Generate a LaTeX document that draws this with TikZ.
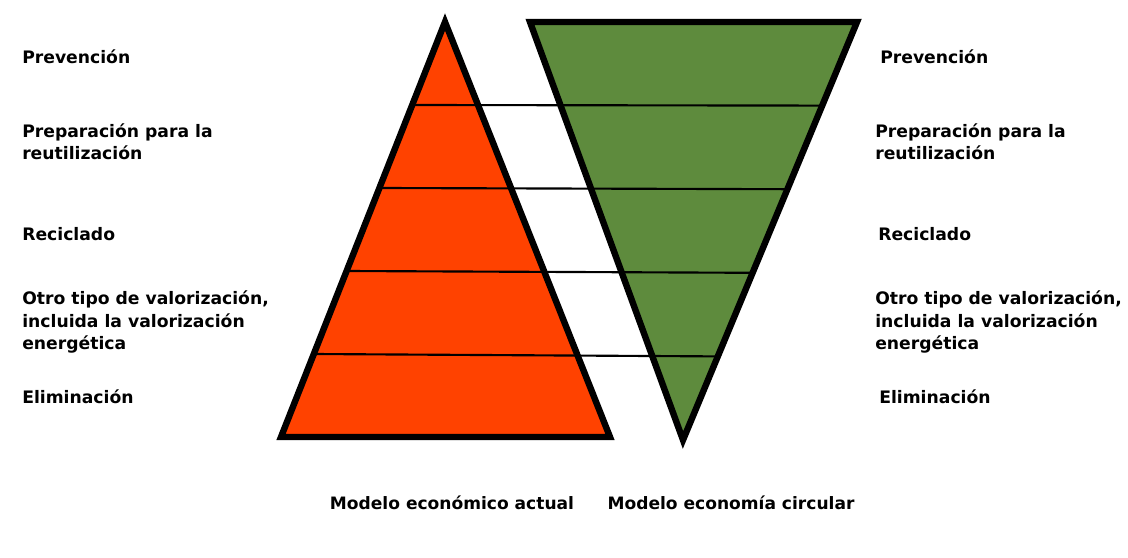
\documentclass[tikz,border=0pt]{standalone}
\usepackage{fontspec}
\setmainfont{DejaVu Sans}
\usetikzlibrary{calc}
\definecolor{redfill}{HTML}{FF4200}
\definecolor{greenfill}{HTML}{5E8B3D}
\tikzset{
  tri/.style={draw=black, line width=4.8pt, line join=miter},
  level/.style={draw=black, line width=1.6pt},
  lbl/.style={anchor=west, align=left, inner sep=0pt, font=\bfseries\fontsize{12.9}{16.8}\selectfont},
  captext/.style={anchor=center, inner sep=0pt, font=\bfseries\fontsize{12.8}{16.8}\selectfont}
}
\begin{document}
\begin{tikzpicture}[x=0.75pt,y=-0.75pt]
\useasboundingbox (0,0) rectangle (1128,557);
\coordinate (rA) at (445,22);
\coordinate (rL) at (281,437);
\coordinate (rR) at (610,437);
\coordinate (gL) at (530,22);
\coordinate (gR) at (857,22);
\coordinate (gB) at (683,440);
\fill[redfill] (rA) -- (rL) -- (rR) -- cycle;
\fill[greenfill] (gL) -- (gR) -- (gB) -- cycle;
\foreach \t in {0.2,0.4,0.6,0.8}{
  \draw[level] ($(rA)!\t!(rL)$) -- ($(gR)!\t!(gB)$);
}
\draw[tri] (rA) -- (rL) -- (rR) -- cycle;
\draw[tri] (gL) -- (gR) -- (gB) -- cycle;

\node[lbl] (l1) at (22,57) {Prevención};
\node[lbl] (l2) at (22,142) {Preparación para la\\reutilización};
\node[lbl] (l3) at (22,234) {Reciclado};
\node[lbl] (l4) at (22,322) {Otro tipo de valorización,\\incluida la valorización\\energética};
\node[lbl] (l5) at (22,397) {Eliminación};

\node[lbl] (r1) at (880,57) {Prevención};
\node[lbl] (r2) at (875,142) {Preparación para la\\reutilización};
\node[lbl] (r3) at (878,234) {Reciclado};
\node[lbl] (r4) at (875,322) {Otro tipo de valorización,\\incluida la valorización\\energética};
\node[lbl] (r5) at (879,397) {Eliminación};

\node[captext] (c1) at (452,503) {Modelo económico actual};
\node[captext] (c2) at (731,503) {Modelo economía circular};
\end{tikzpicture}
\end{document}
